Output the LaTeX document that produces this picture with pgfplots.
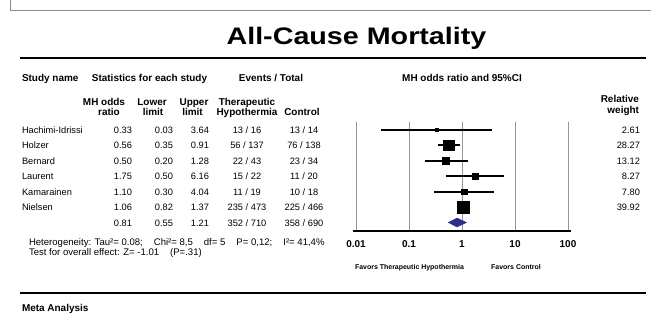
\documentclass[border=0pt]{standalone}
\usepackage{fontspec}
\setmainfont{Liberation Sans}
\usepackage{graphicx}
\usepackage{pgfplots}
\usepackage{pgfplotstable}
\pgfplotsset{compat=1.18}
\definecolor{framegray}{RGB}{140,140,140}
\definecolor{gridgray}{RGB}{150,150,150}
\definecolor{diam}{RGB}{42,48,140}
\newcommand{\fs}[1]{\fontsize{#1}{#1}\selectfont}
\newcommand{\gap}{\hspace{11bp}}

% study data: row, odds ratio, lower, upper, relative weight
\pgfplotstableread{
row or lo hi w
1 0.33 0.03 3.64 2.61
2 0.56 0.35 0.91 28.27
3 0.50 0.20 1.28 13.12
4 1.75 0.50 6.16 8.27
5 1.10 0.30 4.04 7.80
6 1.06 0.82 1.37 39.92
}\studies

% one table row of text: baseline y (px from top), name, or, lo, hi, TH, Control, weight
\newcommand{\trow}[8]{%
  \node[anchor=base west, font=\fs{9.3}] at (22,{320-#1}) {#2};
  \node[anchor=base east, font=\fs{9.3}] at (132,{320-#1}) {#3};
  \node[anchor=base east, font=\fs{9.3}] at (173,{320-#1}) {#4};
  \node[anchor=base east, font=\fs{9.3}] at (209,{320-#1}) {#5};
  \node[anchor=base, font=\fs{9.3}] at (247,{320-#1}) {#6};
  \node[anchor=base, font=\fs{9.3}] at (304,{320-#1}) {#7};
  \node[anchor=base east, font=\fs{9.3}] at (640,{320-#1}) {#8};
}

\begin{document}
\begin{tikzpicture}[x=1bp,y=1bp, every node/.style={inner sep=0pt, outer sep=0pt}]
\path[use as bounding box] (0,0) rectangle (651,320);
% frame
\draw[framegray, line width=1.5bp] (10.5,320) -- (10.5,309.5) -- (651,309.5);
% title
\node[anchor=base, font=\bfseries\fs{24}] at (356.5,{320-44.3}) {\scalebox{1.2}[1]{All-Cause Mortality}};
% rules
\draw[black, line width=2bp] (20,{320-57.5}) -- (646,{320-57.5});
\draw[black, line width=2bp] (20,{320-292.7}) -- (646,{320-292.7});
\node[anchor=base west, font=\bfseries\fs{10}] at (22,{320-311.5}) {Meta Analysis};

% headers
\node[anchor=base west, font=\bfseries\fs{10}] at (22,{320-81.5}) {Study name};
\node[anchor=base, font=\bfseries\fs{10}] at (149.5,{320-81.5}) {Statistics for each study};
\node[anchor=base, font=\bfseries\fs{10}] at (271,{320-81.5}) {Events / Total};
\node[anchor=base, font=\bfseries\fs{10}] at (462,{320-81.5}) {MH odds ratio and 95\%CI};

\node[anchor=base, font=\bfseries\fs{10}] at (104,{320-105}) {MH odds};
\node[anchor=base, font=\bfseries\fs{10}] at (109,{320-115.5}) {ratio};
\node[anchor=base, font=\bfseries\fs{10}] at (152,{320-105}) {Lower};
\node[anchor=base, font=\bfseries\fs{10}] at (153,{320-115.5}) {limit};
\node[anchor=base, font=\bfseries\fs{10}] at (194,{320-105}) {Upper};
\node[anchor=base, font=\bfseries\fs{10}] at (192.5,{320-115.5}) {limit};
\node[anchor=base, font=\bfseries\fs{10}] at (247,{320-105}) {Therapeutic};
\node[anchor=base, font=\bfseries\fs{10}] at (247,{320-115.5}) {Hypothermia};
\node[anchor=base, font=\bfseries\fs{10}] at (302,{320-115.5}) {Control};
\node[anchor=base east, font=\bfseries\fs{10}] at (639,{320-102.5}) {Relative};
\node[anchor=base east, font=\bfseries\fs{10}] at (639,{320-113}) {weight};

% table rows
\trow{133}{Hachimi-Idrissi}{0.33}{0.03}{3.64}{13 / 16}{13 / 14}{2.61}
\trow{148.5}{Holzer}{0.56}{0.35}{0.91}{56 / 137}{76 / 138}{28.27}
\trow{164}{Bernard}{0.50}{0.20}{1.28}{22 / 43}{23 / 34}{13.12}
\trow{179.5}{Laurent}{1.75}{0.50}{6.16}{15 / 22}{11 / 20}{8.27}
\trow{195}{Kamarainen}{1.10}{0.30}{4.04}{11 / 19}{10 / 18}{7.80}
\trow{210.5}{Nielsen}{1.06}{0.82}{1.37}{235 / 473}{225 / 466}{39.92}
\trow{226}{}{0.81}{0.55}{1.21}{352 / 710}{358 / 690}{}

% heterogeneity
\node[anchor=base west, font=\fs{9.6}] at (29,{320-245.5}) {Heterogeneity: Tau²= 0.08;\gap Chi²= 8,5\gap df= 5\gap P= 0,12;\gap I²= 41,4\%};
\node[anchor=base west, font=\fs{9.6}] at (29,{320-255.5}) {Test for overall effect: Z= -1.01\gap(P=.31)};

% favors
\node[anchor=base, font=\bfseries\fs{7}] at (409.5,{320-269}) {Favors Therapeutic Hypothermia};
\node[anchor=base, font=\bfseries\fs{7}] at (516,{320-269}) {Favors Control};

\begin{axis}[name=forest, at={(353bp,89bp)}, anchor=south west,
  scale only axis, width=218bp, height=109bp,
  xmode=log, xmin=0.00877, xmax=114, ymin=-7.548, ymax=-0.516,
  axis x line*=bottom, axis y line=none,
  x axis line style={black, line width=1.8bp},
  xtick={0.01,0.1,1,10,100}, xticklabels={0.01,0.1,1,10,100},
  major tick length=0pt, minor tick length=0pt,
  minor x tick style={draw=none},
  xmajorgrids, xminorgrids=false, grid style={gridgray, line width=0.8bp},
  xticklabel style={font=\bfseries\fs{10}, yshift=-10bp},
  ytick=\empty, clip=false]
\addplot[scatter, only marks, mark=square*,
  scatter/use mapped color={draw=black, fill=black},
  visualization depends on={sqrt(\thisrow{w}) \as \msz},
  scatter/@pre marker code/.append style={/tikz/mark size=\msz},
  error bars/x dir=both, error bars/x explicit, error bars/error mark=none,
  error bars/error bar style={black, line width=2bp}]
  table[x=or, y expr=-\thisrow{row},
        x error plus expr=\thisrow{hi}-\thisrow{or},
        x error minus expr=\thisrow{or}-\thisrow{lo}] {\studies};
\addplot[draw=diam, fill=diam] coordinates {(0.55,-7) (0.81,-6.71) (1.21,-7) (0.81,-7.29)} -- cycle;
\end{axis}
\end{tikzpicture}
\end{document}
